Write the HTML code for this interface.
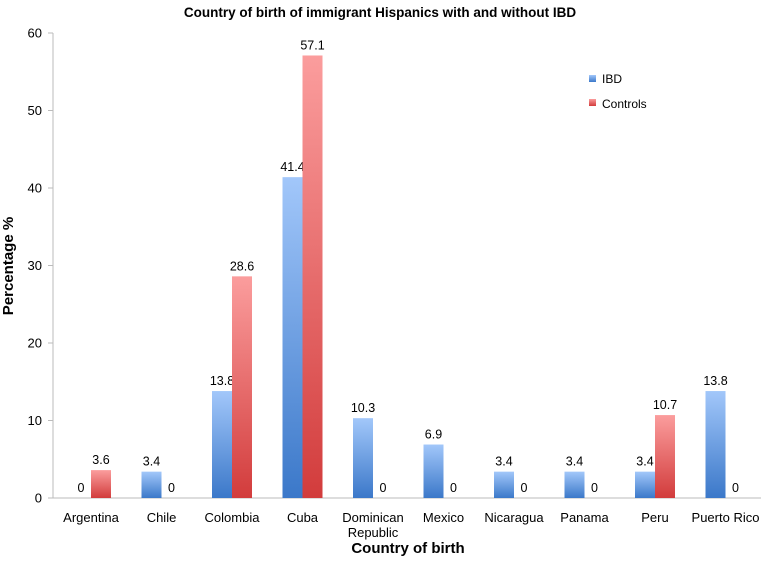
<!DOCTYPE html>
<html><head><meta charset="utf-8"><style>
body{margin:0;background:#fff}
svg{display:block;font-family:"Liberation Sans",Calibri,sans-serif}
</style></head><body>
<svg id="chart" width="761" height="566" viewBox="0 0 761 566" xmlns="http://www.w3.org/2000/svg">
<defs>
<linearGradient id="gb" x1="0" y1="0" x2="0" y2="1"><stop offset="0" stop-color="#a2c7fa"/><stop offset="1" stop-color="#3b78c9"/></linearGradient>
<linearGradient id="gr" x1="0" y1="0" x2="0" y2="1"><stop offset="0" stop-color="#fb9d9d"/><stop offset="1" stop-color="#d23c3c"/></linearGradient>
</defs>
<text x="380" y="17" text-anchor="middle" font-size="13.5" font-weight="bold">Country of birth of immigrant Hispanics with and without IBD</text>
<text transform="translate(13,266) rotate(-90)" text-anchor="middle" font-size="15" font-weight="bold">Percentage %</text>
<text x="408" y="553" text-anchor="middle" font-size="15" font-weight="bold">Country of birth</text>
<line x1="53" y1="33" x2="53" y2="498" stroke="#bbb"/>
<line x1="53" y1="498" x2="761" y2="498" stroke="#bbb"/>
<g id="yticks"></g><g id="bars"></g><g id="xlabels"></g>
<g>
<rect x="589" y="75" width="7" height="7" fill="url(#gb)"/>
<text x="602" y="83" font-size="12">IBD</text>
<rect x="589" y="99" width="7" height="7" fill="url(#gr)"/>
<text x="602" y="108" font-size="12">Controls</text>
</g>
</svg>
<script>
const categories=["Argentina","Chile","Colombia","Cuba","Dominican Republic","Mexico","Nicaragua","Panama","Peru","Puerto Rico"];
const ibd=[0,3.4,13.8,41.4,10.3,6.9,3.4,3.4,3.4,13.8];
const controls=[3.6,0,28.6,57.1,0,0,0,0,10.7,0];
const yTicks=[0,10,20,30,40,50,60];
const NS="http://www.w3.org/2000/svg";
const y=v=>498-v*7.75;
const x=i=>91+i*70.5;
function mk(tag,attrs,parent,txt){const e=document.createElementNS(NS,tag);for(const k in attrs)e.setAttribute(k,attrs[k]);if(txt!==undefined)e.textContent=txt;parent.appendChild(e);return e;}
const yt=document.getElementById('yticks'),bg=document.getElementById('bars'),xl=document.getElementById('xlabels');
yTicks.forEach(t=>{
  const l=mk('line',{x1:48,x2:53,y1:y(t),y2:y(t),stroke:'#bbb'},yt);
  
  
  const tx=mk('text',{x:42,y:y(t)+4.5,'text-anchor':'end','font-size':13},yt,String(t));
  
  
});
categories.forEach((c,i)=>{
  const cx=x(i);
  [[ibd[i],cx-20,'url(#gb)','ibd'],[controls[i],cx,'url(#gr)','controls']].forEach(([v,bx,f,s])=>{
    const r=mk('rect',{x:bx,y:y(v),width:20,height:498-y(v),fill:f},bg);
    
    
    const t=mk('text',{x:bx+10,y:y(v)-6,'text-anchor':'middle','font-size':12.5},bg,String(v));
    
    
  });
  const parts=c==="Dominican Republic"?["Dominican","Republic"]:[c];
  parts.forEach((p,k)=>{
    const t=mk('text',{x:cx,y:522+k*15,'text-anchor':'middle','font-size':13},xl,p);
    
    
  });
});
</script>
</body></html>
